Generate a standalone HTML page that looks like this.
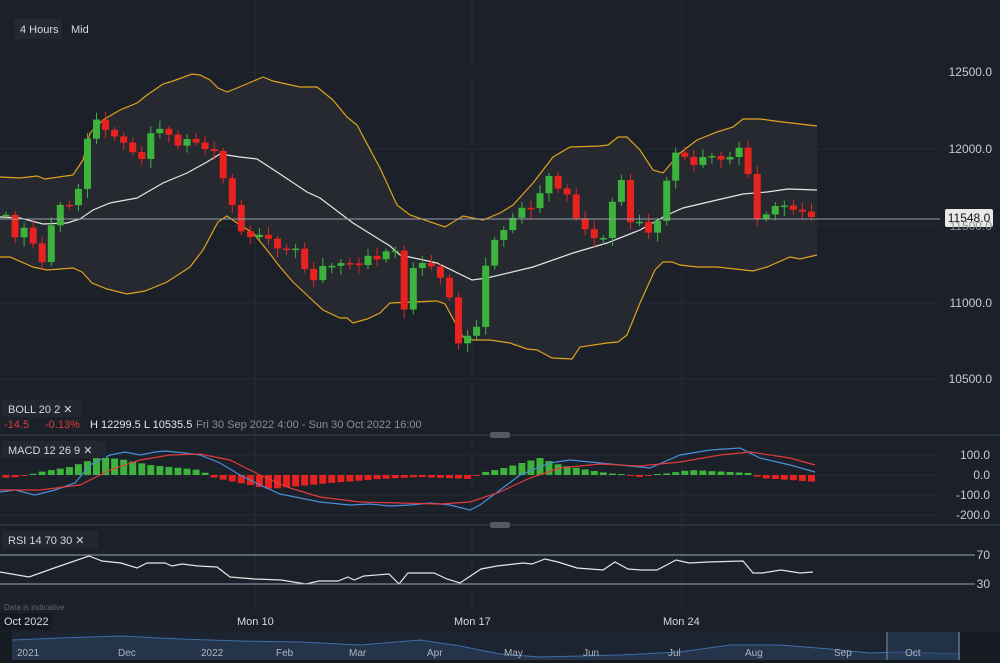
<!DOCTYPE html>
<html><head><meta charset="utf-8"><style>
html,body{margin:0;padding:0;background:#1b2029;width:1000px;height:663px;overflow:hidden;font-family:"Liberation Sans",sans-serif}
svg{display:block}
text{font-family:"Liberation Sans",sans-serif}
</style></head><body>
<svg id="s" width="1000" height="663" xmlns="http://www.w3.org/2000/svg">
<rect width="1000" height="663" fill="#1b2029"/>
<g stroke="#262c37" stroke-width="1">
<line x1="0" y1="72" x2="940" y2="72"/><line x1="0" y1="149" x2="940" y2="149"/><line x1="0" y1="226" x2="940" y2="226"/><line x1="0" y1="303" x2="940" y2="303"/><line x1="0" y1="379" x2="940" y2="379"/>
<line x1="255" y1="0" x2="255" y2="612"/><line x1="472" y1="0" x2="472" y2="612"/><line x1="682" y1="0" x2="682" y2="612"/>
<line x1="0" y1="455" x2="940" y2="455"/><line x1="0" y1="475" x2="940" y2="475"/><line x1="0" y1="495" x2="940" y2="495"/><line x1="0" y1="515" x2="940" y2="515"/>
</g>
<g id="main"></g>
<line x1="0" y1="219" x2="940" y2="219" stroke="#9aa0aa" stroke-width="1"/>
<rect x="945" y="209" width="48" height="18" rx="2" fill="#e8e8e8"/>
<text x="969" y="222" font-size="12" fill="#111" text-anchor="middle">11548.0</text>
<g font-size="12" fill="#c8ccd2" text-anchor="end">
<text x="992" y="76">12500.0</text><text x="992" y="153">12000.0</text><text x="992" y="230" fill="#8a8f98">11500.0</text><text x="992" y="307">11000.0</text><text x="992" y="383">10500.0</text>
<text x="990" y="459">100.0</text><text x="990" y="479">0.0</text><text x="990" y="499">-100.0</text><text x="990" y="519">-200.0</text>
<text x="990" y="559">70</text><text x="990" y="588">30</text>
</g>
<rect x="14" y="19" width="48" height="20" rx="2" fill="#232833"/>
<text x="20" y="33" font-size="11" fill="#d6d9de">4 Hours</text>
<text x="71" y="33" font-size="11" fill="#d6d9de">Mid</text>
<line x1="0" y1="435" x2="1000" y2="435" stroke="#3a404b"/>
<rect x="490" y="432" width="20" height="6" rx="2" fill="#555b66"/>
<line x1="0" y1="525" x2="1000" y2="525" stroke="#3a404b"/>
<rect x="490" y="522" width="20" height="6" rx="2" fill="#555b66"/>
<rect x="2" y="400" width="80" height="17" fill="#222731"/>
<text x="8" y="413" font-size="11" fill="#d6d9de">BOLL  20  2  ✕</text>
<text x="4" y="428" font-size="11" fill="#e03b3b">-14.5</text>
<text x="45" y="428" font-size="11" fill="#e03b3b">-0.13%</text>
<text x="90" y="428" font-size="11" fill="#e6e8eb">H 12299.5   L 10535.5</text>
<text x="196" y="428" font-size="11" fill="#8a8f98">Fri 30 Sep 2022 4:00 - Sun 30 Oct 2022 16:00</text>
<rect x="2" y="441" width="104" height="17" fill="#222731"/>
<text x="8" y="454" font-size="11" fill="#d6d9de">MACD  12  26  9  ✕</text>
<rect x="2" y="531" width="96" height="17" fill="#222731"/>
<text x="8" y="544" font-size="11" fill="#d6d9de">RSI  14  70  30  ✕</text>
<line x1="0" y1="555" x2="975" y2="555" stroke="#8fa6bd"/>
<line x1="0" y1="584" x2="975" y2="584" stroke="#8fa6bd"/>
<text x="4" y="610" font-size="8" fill="#5f6570">Data is indicative</text>
<rect x="0" y="613" width="52" height="17" fill="#151920"/>
<g font-size="11" fill="#d6d9de"><text x="4" y="625">Oct 2022</text><text x="237" y="625">Mon 10</text><text x="454" y="625">Mon 17</text><text x="663" y="625">Mon 24</text></g>
<rect x="0" y="632" width="1000" height="31" fill="#161a21"/>
<rect x="12" y="632" width="948" height="28" fill="#1c2431"/>
<g id="nav"></g>
<rect x="887" y="632" width="73" height="28" fill="#26405e" opacity="0.5"/>
<line x1="887" y1="632" x2="887" y2="660" stroke="#8a8f98"/><line x1="959" y1="632" x2="959" y2="660" stroke="#8a8f98"/>
<g font-size="10" fill="#b0b5bd"><text x="17" y="656">2021</text><text x="118" y="656">Dec</text><text x="201" y="656">2022</text><text x="276" y="656">Feb</text><text x="349" y="656">Mar</text><text x="427" y="656">Apr</text><text x="504" y="656">May</text><text x="583" y="656">Jun</text><text x="668" y="656">Jul</text><text x="745" y="656">Aug</text><text x="834" y="656">Sep</text><text x="905" y="656">Oct</text></g>
</svg>
<script>
function interp(pts,x){for(let i=0;i<pts.length-1;i++){if(x>=pts[i][0]&&x<=pts[i+1][0]){let t=(x-pts[i][0])/(pts[i+1][0]-pts[i][0]);return pts[i][1]+t*(pts[i+1][1]-pts[i][1]);}}return x<pts[0][0]?pts[0][1]:pts[pts.length-1][1];}
function path(pts){return 'M'+pts.map(p=>p[0]+','+p[1]).join(' L');}
const up=[[0,177],[20,178],[37,176],[45,179],[73,175],[83,160],[90,133],[103,120],[120,110],[137,103],[147,95],[163,84],[173,81],[192,74],[200,75],[210,80],[218,88],[227,92],[237,88],[263,77],[273,81],[300,87],[317,87],[333,100],[347,117],[357,125],[380,168],[397,205],[410,215],[445,227],[463,216],[483,220],[500,213],[513,205],[533,183],[553,157],[570,147],[600,146],[608,145],[618,137],[627,137],[640,150],[653,170],[663,173],[680,153],[697,140],[717,132],[733,127],[743,119],[760,119],[783,122],[817,126]];
const lo=[[0,257],[10,257],[33,267],[47,270],[73,268],[82,272],[92,283],[107,289],[127,294],[145,291],[167,282],[190,267],[203,250],[218,222],[227,216],[240,225],[253,233],[267,250],[280,267],[293,282],[310,298],[323,310],[340,318],[347,318],[353,323],[367,319],[380,313],[390,303],[437,301],[445,304],[463,337],[473,340],[490,340],[510,343],[527,349],[537,350],[552,358],[572,359],[580,347],[607,343],[618,342],[627,335],[640,303],[655,270],[663,262],[672,262],[680,265],[697,267],[717,267],[753,271],[767,267],[790,257],[800,259],[817,255]];
const mid=[[0,217],[20,218],[43,224],[67,223],[80,219],[93,210],[110,203],[137,198],[163,183],[187,173],[207,162],[220,154],[240,157],[257,159],[277,172],[307,192],[320,198],[353,223],[390,246],[400,255],[437,263],[472,280],[487,278],[533,267],[573,253],[607,243],[640,230],[667,215],[683,208],[717,200],[743,194],[767,192],[788,189],[817,190]];
const cl=[[5,215],[14,240],[23,225],[33,240],[42,265],[50,230],[58,200],[66,210],[75,205],[84,165],[92,102],[100,128],[110,135],[120,138],[130,145],[138,175],[148,135],[158,125],[165,128],[175,150],[185,135],[195,145],[205,150],[215,150],[228,190],[238,230],[250,235],[260,238],[270,240],[280,250],[290,245],[300,255],[310,285],[318,270],[328,268],[338,265],[348,255],[355,275],[365,255],[375,258],[385,255],[395,250],[402,325],[410,265],[420,265],[430,265],[440,275],[448,290],[455,340],[463,350],[472,320],[478,325],[485,270],[492,245],[500,230],[510,225],[520,210],[528,205],[535,210],[545,170],[555,190],[565,185],[575,220],[580,225],[590,235],[600,240],[610,225],[615,180],[625,180],[630,220],[640,225],[650,235],[660,215],[668,170],[678,150],[688,160],[698,165],[708,155],[718,160],[728,155],[738,150],[745,148],[753,215],[765,220],[772,205],[780,210],[788,200],[796,210],[805,215],[815,218]];
let h='';
h+='<path d="'+path(up)+' L'+lo.slice().reverse().map(p=>p[0]+','+p[1]).join(' L')+' Z" fill="#262a30"/>';
h+='<path d="'+path(up)+'" fill="none" stroke="#e0a21e" stroke-width="1.2"/>';
h+='<path d="'+path(lo)+'" fill="none" stroke="#e0a21e" stroke-width="1.2"/>';
h+='<path d="'+path(mid)+'" fill="none" stroke="#e6e6e6" stroke-width="1.2"/>';
let prev=215;
for(let i=0;i<90;i++){let x=6+i*9.05;let c=interp(cl,x)+((i*37)%7-3);let o=prev;prev=c;
 let g=c<o;let col=g?'#3db33d':'#e8231f';let t=Math.min(o,c),b=Math.max(o,c);if(b-t<1.5)b=t+1.5;
 let wt=t-3-((i*13)%6),wb=b+3+((i*17)%7);
 h+='<line x1="'+x.toFixed(1)+'" y1="'+wt+'" x2="'+x.toFixed(1)+'" y2="'+wb+'" stroke="'+col+'"/>';
 h+='<rect x="'+(x-3.5).toFixed(1)+'" y="'+t.toFixed(1)+'" width="7" height="'+(b-t).toFixed(1)+'" fill="'+col+'"/>';}
const hist=[[0,-3],[20,-2],[40,3],[70,8],[100,18],[120,16],[150,10],[200,5],[215,-3],[250,-10],[270,-14],[330,-8],[380,-4],[420,-2],[470,-4],[480,2],[500,6],[540,17],[560,10],[600,3],[640,-2],[670,2],[690,5],[750,2],[760,-3],[790,-5],[818,-7]];
for(let i=0;i<90;i++){let x=6+i*9.05;let v=interp(hist,x);let y0=475;let col=v>=0?'#3db33d':'#e8231f';
 let hgt=Math.max(Math.abs(v),1);h+='<rect x="'+(x-3.5).toFixed(1)+'" y="'+(v>=0?y0-hgt:y0).toFixed(1)+'" width="7" height="'+hgt.toFixed(1)+'" fill="'+col+'"/>';}
const macd=[[0,492],[15,490],[35,495],[55,490],[75,483],[90,465],[110,455],[125,452],[140,455],[155,452],[165,451],[185,453],[200,455],[220,463],[240,475],[260,485],[280,494],[300,498],[320,502],[350,505],[370,504],[390,506],[410,505],[430,503],[450,505],[470,510],[480,505],[500,490],[520,475],[550,463],[570,460],[590,462],[610,464],[630,466],[650,468],[680,455],[710,450],[740,448],[760,458],[790,465],[815,472]];
const sig=[[0,490],[40,490],[80,485],[110,470],[140,460],[170,455],[200,454],[230,460],[260,475],[290,488],[320,497],[360,502],[400,503],[440,504],[470,502],[500,492],[530,478],[560,468],[600,464],[640,466],[680,462],[720,455],[750,452],[790,458],[815,465]];
h+='<path d="'+path(macd)+'" fill="none" stroke="#4a90d9" stroke-width="1.2"/>';
h+='<path d="'+path(sig)+'" fill="none" stroke="#e03b3b" stroke-width="1.2"/>';
const rsi=[[0,572],[29,577],[57,567],[89,556],[102,561],[121,563],[137,568],[147,563],[165,563],[172,566],[182,564],[198,566],[217,567],[230,577],[255,579],[281,580],[306,584],[319,581],[338,581],[348,577],[354,580],[364,576],[389,574],[399,584],[408,573],[434,573],[447,579],[460,583],[481,569],[497,566],[523,563],[532,564],[545,559],[558,562],[577,568],[603,570],[615,562],[628,569],[641,570],[657,570],[676,560],[689,563],[708,562],[743,561],[753,573],[762,573],[781,570],[800,573],[813,572]];
h+='<path d="'+path(rsi)+'" fill="none" stroke="#e6e6e6" stroke-width="1.2"/>';
document.getElementById('main').innerHTML=h;
const nv=[[12,640],[60,638],[120,636],[180,639],[240,641],[300,642],[360,645],[420,640],[460,646],[500,654],[540,657],[580,656],[620,655],[680,652],[730,645],[780,645],[830,649],[870,653],[900,652],[960,654]];
document.getElementById('nav').innerHTML='<path d="'+path(nv)+' L960,660 L12,660 Z" fill="#24344a"/><path d="'+path(nv)+'" fill="none" stroke="#3d6fa8" stroke-width="1"/>';
</script>
</body></html>
